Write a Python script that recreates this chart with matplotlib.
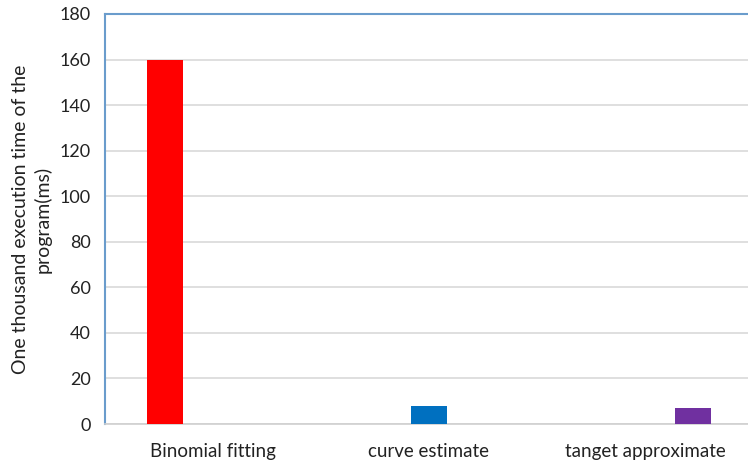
import matplotlib
matplotlib.use("Agg")
import matplotlib.pyplot as plt
import numpy as np

categories = ["Binomial fitting", "curve estimate", "tanget approximate"]
series_names = ["Binomial fitting", "curve estimate", "tanget approximate"]
series_values = [
    [160, 0, 0],
    [0, 8, 0],
    [0, 0, 7],
]
series_colors = ["#ff0000", "#0070c0", "#7030a0"]
yticks = [0, 20, 40, 60, 80, 100, 120, 140, 160, 180]
ylabel = "One thousand execution time of the\nprogram(ms)"

plt.rcParams['font.family'] = ['Lato', 'DejaVu Sans']

fig = plt.figure(figsize=(7.48, 4.65), dpi=100)
ax = fig.add_axes([105/748, 1 - 424/465, (753-105)/748, (424-14)/465])

x = np.arange(len(categories))
width = 0.17
offsets = [-0.222, 0.0, 0.222]
for vals, off, col in zip(series_values, offsets, series_colors):
    ax.bar(x + off, vals, width=width, color=col, zorder=3)

ax.set_xlim(-0.5, 2.5)
ax.set_ylim(0, 180)
ax.set_yticks(yticks)
ax.set_xticks(x)
ax.set_xticklabels(categories, fontsize=13.5, color="#222222")
ax.tick_params(axis='y', labelsize=13, colors="#222222", length=0, pad=10)
ax.tick_params(axis='x', length=0, pad=14)
ax.yaxis.grid(True, color="#d9d9d9", linewidth=1.2, zorder=0)
ax.set_axisbelow(True)

for s in ["left", "top"]:
    ax.spines[s].set_color("#6a9ccc")
    ax.spines[s].set_linewidth(1.5)
ax.spines["bottom"].set_color("#d0d0d0")
ax.spines["bottom"].set_linewidth(1.2)
ax.spines["right"].set_visible(False)

ax.set_ylabel(ylabel, fontsize=14, color="#222222", labelpad=6, linespacing=1.3)

fig.savefig("out.png", dpi=100)
